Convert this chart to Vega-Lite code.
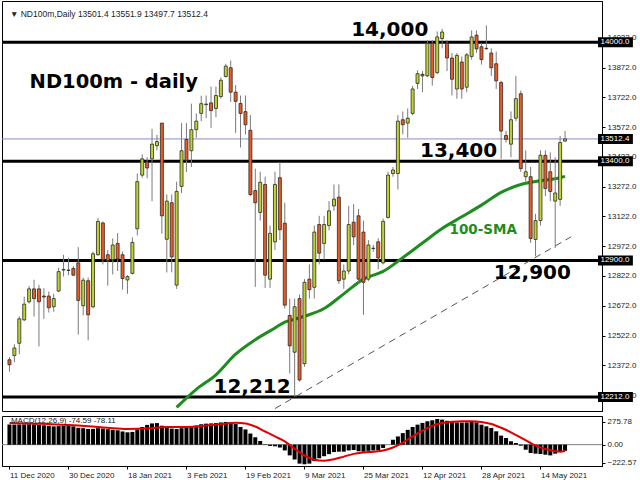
{
"$schema": "https://vega.github.io/schema/vega-lite/v6.json",
"background": "white",
"padding": {"left": 0, "top": 0, "right": 0, "bottom": 0},
"spacing": 3,
"config": {"view": {"stroke": "#000", "strokeWidth": 1}, "font": "Liberation Sans",
  "axis": {"labelFont": "Liberation Sans", "labelFontSize": 8, "labelColor": "#222", "tickColor": "#000", "domainColor": "#000", "tickSize": 3, "grid": false, "labelPadding": 2, "labelOverlap": false, "labelSeparation": 0, "labelBound": false, "labelFlush": false},
  "axisY": {"labelOverlap": false}, "axisRight": {"labelOverlap": false}, "axisQuantitative": {"labelOverlap": false}},
"datasets": {
"candles": [
{"i":0,"o":12400,"h":12413,"l":12340,"c":12375},
{"i":1,"o":12421,"h":12478,"l":12388,"c":12459},
{"i":2,"o":12483,"h":12619,"l":12428,"c":12606},
{"i":3,"o":12601,"h":12718,"l":12595,"c":12680},
{"i":4,"o":12692,"h":12772,"l":12683,"c":12757},
{"i":5,"o":12757,"h":12803,"l":12618,"c":12708},
{"i":6,"o":12757,"h":12777,"l":12467,"c":12692},
{"i":7,"o":12721,"h":12760,"l":12606,"c":12716},
{"i":8,"o":12721,"h":12744,"l":12638,"c":12662},
{"i":9,"o":12667,"h":12732,"l":12642,"c":12708},
{"i":10,"o":12746,"h":12864,"l":12741,"c":12844},
{"i":11,"o":12852,"h":12929,"l":12819,"c":12855},
{"i":12,"o":12850,"h":12914,"l":12826,"c":12852},
{"i":13,"o":12860,"h":12871,"l":12822,"c":12826},
{"i":14,"o":12888,"h":12967,"l":12527,"c":12699},
{"i":15,"o":12672,"h":12814,"l":12623,"c":12801},
{"i":16,"o":12798,"h":12814,"l":12498,"c":12626},
{"i":17,"o":12667,"h":12945,"l":12658,"c":12934},
{"i":18,"o":12929,"h":13114,"l":12924,"c":13097},
{"i":19,"o":13089,"h":13097,"l":12880,"c":12904},
{"i":20,"o":12929,"h":12953,"l":12773,"c":12899},
{"i":21,"o":12904,"h":13011,"l":12830,"c":12978},
{"i":22,"o":12986,"h":13038,"l":12847,"c":12908},
{"i":23,"o":12929,"h":12945,"l":12753,"c":12809},
{"i":24,"o":12802,"h":12826,"l":12732,"c":12819},
{"i":25,"o":12835,"h":13016,"l":12830,"c":12991},
{"i":26,"o":13060,"h":13338,"l":13027,"c":13297},
{"i":27,"o":13330,"h":13435,"l":13317,"c":13412},
{"i":28,"o":13396,"h":13420,"l":13314,"c":13366},
{"i":29,"o":13412,"h":13563,"l":13199,"c":13486},
{"i":30,"o":13478,"h":13533,"l":13455,"c":13499},
{"i":31,"o":13592,"h":13592,"l":13035,"c":13125},
{"i":32,"o":13007,"h":13233,"l":12840,"c":13199},
{"i":33,"o":13191,"h":13233,"l":12840,"c":12918},
{"i":34,"o":12776,"h":13297,"l":12757,"c":13248},
{"i":35,"o":13273,"h":13592,"l":13240,"c":13453},
{"i":36,"o":13510,"h":13592,"l":13346,"c":13404},
{"i":37,"o":13453,"h":13690,"l":13371,"c":13559},
{"i":38,"o":13559,"h":13641,"l":13518,"c":13602},
{"i":39,"o":13641,"h":13730,"l":13602,"c":13690},
{"i":40,"o":13685,"h":13731,"l":13617,"c":13688},
{"i":41,"o":13694,"h":13776,"l":13568,"c":13655},
{"i":42,"o":13666,"h":13776,"l":13622,"c":13731},
{"i":43,"o":13726,"h":13822,"l":13715,"c":13808},
{"i":44,"o":13827,"h":13891,"l":13822,"c":13879},
{"i":45,"o":13871,"h":13907,"l":13699,"c":13748},
{"i":46,"o":13748,"h":13784,"l":13543,"c":13702},
{"i":47,"o":13691,"h":13731,"l":13469,"c":13641},
{"i":48,"o":13650,"h":13731,"l":13535,"c":13584},
{"i":49,"o":13556,"h":13633,"l":13224,"c":13232},
{"i":50,"o":13252,"h":13363,"l":12767,"c":13191},
{"i":51,"o":13142,"h":13347,"l":13101,"c":13294},
{"i":52,"o":13283,"h":13322,"l":12762,"c":12826},
{"i":53,"o":12806,"h":13076,"l":12762,"c":13037},
{"i":54,"o":12994,"h":13347,"l":12953,"c":13283},
{"i":55,"o":13317,"h":13396,"l":13003,"c":13055},
{"i":56,"o":13088,"h":13191,"l":12658,"c":12675},
{"i":57,"o":12623,"h":12708,"l":12331,"c":12470},
{"i":58,"o":12438,"h":12708,"l":12212,"c":12667},
{"i":59,"o":12708,"h":12728,"l":12290,"c":12298},
{"i":60,"o":12380,"h":12806,"l":12364,"c":12790},
{"i":61,"o":12806,"h":12880,"l":12708,"c":12753},
{"i":62,"o":12765,"h":13076,"l":12708,"c":13043},
{"i":63,"o":13081,"h":13125,"l":12880,"c":12937},
{"i":64,"o":12986,"h":13125,"l":12904,"c":13081},
{"i":65,"o":13076,"h":13199,"l":13052,"c":13150},
{"i":66,"o":13175,"h":13283,"l":13150,"c":13209},
{"i":67,"o":13219,"h":13283,"l":12782,"c":12798},
{"i":68,"o":12806,"h":12880,"l":12757,"c":12847},
{"i":69,"o":12847,"h":13175,"l":12830,"c":13081},
{"i":70,"o":13093,"h":13184,"l":12978,"c":13019},
{"i":71,"o":13125,"h":13160,"l":12782,"c":12806},
{"i":72,"o":13043,"h":13101,"l":12626,"c":12790},
{"i":73,"o":12806,"h":13003,"l":12796,"c":12978},
{"i":74,"o":12960,"h":12978,"l":12944,"c":12962},
{"i":75,"o":12994,"h":13012,"l":12855,"c":12913},
{"i":76,"o":12888,"h":13111,"l":12880,"c":13097},
{"i":77,"o":13117,"h":13347,"l":13111,"c":13330},
{"i":78,"o":13338,"h":13371,"l":13322,"c":13356},
{"i":79,"o":13338,"h":13632,"l":13258,"c":13602},
{"i":80,"o":13609,"h":13651,"l":13535,"c":13584},
{"i":81,"o":13592,"h":13666,"l":13518,"c":13617},
{"i":82,"o":13641,"h":13779,"l":13632,"c":13764},
{"i":83,"o":13792,"h":13858,"l":13764,"c":13841},
{"i":84,"o":13838,"h":13854,"l":13748,"c":13830},
{"i":85,"o":13830,"h":14010,"l":13823,"c":13994},
{"i":86,"o":13994,"h":14010,"l":13781,"c":13822},
{"i":87,"o":13846,"h":14054,"l":13838,"c":14026},
{"i":88,"o":14018,"h":14067,"l":13969,"c":14051},
{"i":89,"o":13994,"h":14010,"l":13854,"c":13920},
{"i":90,"o":13920,"h":13945,"l":13731,"c":13813},
{"i":91,"o":13764,"h":13945,"l":13715,"c":13933},
{"i":92,"o":13900,"h":13928,"l":13715,"c":13764},
{"i":93,"o":13773,"h":13945,"l":13748,"c":13936},
{"i":94,"o":13928,"h":14059,"l":13912,"c":14026},
{"i":95,"o":14035,"h":14059,"l":13946,"c":13966},
{"i":96,"o":13977,"h":13995,"l":13887,"c":13912},
{"i":97,"o":13967,"h":14084,"l":13961,"c":13969},
{"i":98,"o":13945,"h":13969,"l":13830,"c":13871},
{"i":99,"o":13891,"h":13952,"l":13764,"c":13805},
{"i":100,"o":13797,"h":13805,"l":13412,"c":13552},
{"i":101,"o":13530,"h":13553,"l":13494,"c":13510},
{"i":102,"o":13486,"h":13651,"l":13420,"c":13609},
{"i":103,"o":13617,"h":13830,"l":13602,"c":13715},
{"i":104,"o":13740,"h":13756,"l":13347,"c":13363},
{"i":105,"o":13322,"h":13455,"l":13297,"c":13347},
{"i":106,"o":13322,"h":13371,"l":12989,"c":13011},
{"i":107,"o":13006,"h":13135,"l":12921,"c":13101},
{"i":108,"o":13101,"h":13455,"l":13076,"c":13430},
{"i":109,"o":13430,"h":13455,"l":13224,"c":13263},
{"i":110,"o":13347,"h":13445,"l":13199,"c":13248},
{"i":111,"o":13199,"h":13420,"l":12963,"c":13240},
{"i":112,"o":13208,"h":13527,"l":13175,"c":13494},
{"i":113,"o":13501.4,"h":13551.9,"l":13497.7,"c":13512.4}
],
"sma": [
{"i":34,"v":12160},{"i":38,"v":12251},{"i":42,"v":12324},{"i":46,"v":12428},{"i":50,"v":12501},{"i":54,"v":12560},{"i":56,"v":12590},{"i":58,"v":12604},{"i":60,"v":12619},{"i":64,"v":12658},{"i":68,"v":12732},{"i":72,"v":12806},{"i":76,"v":12845},{"i":80,"v":12914},{"i":84,"v":12988},{"i":88,"v":13061},{"i":92,"v":13120},{"i":96,"v":13179},{"i":100,"v":13243},{"i":104,"v":13283},{"i":108,"v":13302},{"i":112,"v":13317},{"i":113,"v":13324}
],
"trend": [{"i":54,"p":12154},{"i":114.2,"p":13019}],
"levels": [{"p":14000},{"p":13400},{"p":12900},{"p":12212}],
"boxes": [{"p":14000},{"p":13512.4},{"p":13400},{"p":12900},{"p":12212}],
"bignotes": [{"i":69.5,"p":14030,"t":"14,000"},{"i":83.5,"p":13420,"t":"13,400"},{"i":98.5,"p":12806,"t":"12,900"},{"i":41.5,"p":12231,"t":"12,212"}],
"macd": [
{"i":0,"m":245},{"i":1,"m":243},{"i":2,"m":245},{"i":3,"m":246},{"i":4,"m":248},{"i":5,"m":246},{"i":6,"m":240},{"i":7,"m":235},{"i":8,"m":228},{"i":9,"m":222},{"i":10,"m":225},{"i":11,"m":228},{"i":12,"m":226},{"i":13,"m":222},{"i":14,"m":205},{"i":15,"m":200},{"i":16,"m":190},{"i":17,"m":192},{"i":18,"m":200},{"i":19,"m":195},{"i":20,"m":188},{"i":21,"m":180},{"i":22,"m":175},{"i":23,"m":160},{"i":24,"m":150},{"i":25,"m":155},{"i":26,"m":185},{"i":27,"m":215},{"i":28,"m":240},{"i":29,"m":258},{"i":30,"m":262},{"i":31,"m":230},{"i":32,"m":210},{"i":33,"m":195},{"i":34,"m":190},{"i":35,"m":200},{"i":36,"m":205},{"i":37,"m":215},{"i":38,"m":232},{"i":39,"m":248},{"i":40,"m":255},{"i":41,"m":258},{"i":42,"m":262},{"i":43,"m":270},{"i":44,"m":275},{"i":45,"m":270},{"i":46,"m":250},{"i":47,"m":215},{"i":48,"m":185},{"i":49,"m":135},{"i":50,"m":90},{"i":51,"m":45},{"i":52,"m":5},{"i":53,"m":-15},{"i":54,"m":-20},{"i":55,"m":-35},{"i":56,"m":-70},{"i":57,"m":-130},{"i":58,"m":-180},{"i":59,"m":-230},{"i":60,"m":-238},{"i":61,"m":-230},{"i":62,"m":-200},{"i":63,"m":-165},{"i":64,"m":-140},{"i":65,"m":-115},{"i":66,"m":-90},{"i":67,"m":-85},{"i":68,"m":-85},{"i":69,"m":-70},{"i":70,"m":-65},{"i":71,"m":-80},{"i":72,"m":-85},{"i":73,"m":-75},{"i":74,"m":-70},{"i":75,"m":-70},{"i":76,"m":-40},{"i":77,"m":0},{"i":78,"m":60},{"i":79,"m":100},{"i":80,"m":140},{"i":81,"m":180},{"i":82,"m":215},{"i":83,"m":243},{"i":84,"m":264},{"i":85,"m":284},{"i":86,"m":296},{"i":87,"m":312},{"i":88,"m":304},{"i":89,"m":290},{"i":90,"m":275},{"i":91,"m":270},{"i":92,"m":268},{"i":93,"m":270},{"i":94,"m":275},{"i":95,"m":270},{"i":96,"m":243},{"i":97,"m":223},{"i":98,"m":203},{"i":99,"m":162},{"i":100,"m":110},{"i":101,"m":81},{"i":102,"m":41},{"i":103,"m":20},{"i":104,"m":-12},{"i":105,"m":-61},{"i":106,"m":-101},{"i":107,"m":-109},{"i":108,"m":-113},{"i":109,"m":-122},{"i":110,"m":-130},{"i":111,"m":-109},{"i":112,"m":-81},{"i":113,"m":-75}
],
"sig": [
{"i":0,"s":262},{"i":4,"s":258},{"i":8,"s":250},{"i":12,"s":240},{"i":16,"s":225},{"i":20,"s":205},{"i":24,"s":190},{"i":28,"s":195},{"i":32,"s":215},{"i":36,"s":215},{"i":40,"s":232},{"i":44,"s":255},{"i":46,"s":265},{"i":48,"s":258},{"i":50,"s":220},{"i":52,"s":160},{"i":54,"s":100},{"i":56,"s":40},{"i":58,"s":-50},{"i":60,"s":-130},{"i":62,"s":-182},{"i":64,"s":-194},{"i":66,"s":-178},{"i":68,"s":-145},{"i":70,"s":-112},{"i":72,"s":-95},{"i":74,"s":-85},{"i":76,"s":-72},{"i":78,"s":-35},{"i":80,"s":25},{"i":82,"s":100},{"i":84,"s":170},{"i":86,"s":228},{"i":88,"s":262},{"i":90,"s":278},{"i":92,"s":285},{"i":94,"s":285},{"i":96,"s":275},{"i":98,"s":250},{"i":100,"s":205},{"i":102,"s":150},{"i":104,"s":85},{"i":106,"s":20},{"i":108,"s":-35},{"i":110,"s":-68},{"i":112,"s":-85},{"i":113,"s":-78}
]
},
"vconcat": [
{
"width": 600, "height": 410,
"encoding": {"y": {"type": "quantitative", "title": null, "scale": {"domain": [12167, 14182], "nice": false, "zero": false},
   "axis": {"orient": "right", "values": [14022,13872,13722,13572,13422,13272,13122,12972,12822,12672,12522,12372,12222], "format": ".1f", "labelOverlap": false}}},
"layer": [
{"data": {"name": "levels"}, "mark": {"type": "rule", "color": "#000", "strokeWidth": 3},
 "encoding": {"y": {"field": "p", "type": "quantitative"}}},
{"data": {"values": [{"p": 13512.4}]}, "mark": {"type": "rule", "color": "#8c8cc8", "strokeWidth": 1},
 "encoding": {"y": {"field": "p", "type": "quantitative"}}},
{"data": {"name": "trend"}, "mark": {"type": "line", "color": "#555", "strokeWidth": 1, "strokeDash": [7, 5], "clip": true},
 "encoding": {"x": {"field": "i", "type": "quantitative", "scale": {"domain": [-0.5, 119.5], "nice": false, "zero": false}, "axis": null},
   "y": {"field": "p", "type": "quantitative"}}},
{"data": {"name": "sma"}, "mark": {"type": "line", "color": "#1e8c1e", "strokeWidth": 3, "interpolate": "monotone", "clip": true},
 "encoding": {"x": {"field": "i", "type": "quantitative", "axis": null}, "y": {"field": "v", "type": "quantitative"}}},
{"data": {"name": "candles"}, "mark": {"type": "rule", "color": "#7a7a7a", "strokeWidth": 1},
 "encoding": {"x": {"field": "i", "type": "quantitative", "axis": null}, "y": {"field": "l", "type": "quantitative"}, "y2": {"field": "h"}}},
{"data": {"name": "candles"}, "mark": {"type": "bar", "size": 3, "stroke": "#2a2a2a", "strokeWidth": 0.8},
 "encoding": {"x": {"field": "i", "type": "quantitative", "axis": null}, "y": {"field": "o", "type": "quantitative"}, "y2": {"field": "c"},
   "color": {"condition": {"test": "datum.c >= datum.o", "value": "#c0d42c"}, "value": "#ef5a1f"}}},
{"data": {"name": "bignotes"}, "mark": {"type": "text", "font": "DejaVu Sans", "fontWeight": "bold", "fontSize": 20, "align": "left", "baseline": "alphabetic", "color": "#000"},
 "encoding": {"x": {"field": "i", "type": "quantitative", "axis": null}, "y": {"field": "p", "type": "quantitative"}, "text": {"field": "t"}}},
{"data": {"values": [{"i": 4.1, "p": 13769, "t": "ND100m - daily"}]}, "mark": {"type": "text", "font": "DejaVu Sans", "fontWeight": "bold", "fontSize": 19.5, "align": "left", "baseline": "alphabetic", "color": "#000"},
 "encoding": {"x": {"field": "i", "type": "quantitative", "axis": null}, "y": {"field": "p", "type": "quantitative"}, "text": {"field": "t"}}},
{"data": {"values": [{"i": 89.5, "p": 13032, "t": "100-SMA"}]}, "mark": {"type": "text", "font": "DejaVu Sans", "fontWeight": "bold", "fontSize": 13.5, "align": "left", "baseline": "alphabetic", "color": "#1e8c1e"},
 "encoding": {"x": {"field": "i", "type": "quantitative", "axis": null}, "y": {"field": "p", "type": "quantitative"}, "text": {"field": "t"}}},
{"data": {"values": [{"i": 0.1, "p": 14143, "t": "▼ ND100m,Daily  13501.4 13551.9 13497.7 13512.4"}]}, "mark": {"type": "text", "font": "Liberation Sans", "fontSize": 8.5, "align": "left", "baseline": "middle", "color": "#222"},
 "encoding": {"x": {"field": "i", "type": "quantitative", "axis": null}, "y": {"field": "p", "type": "quantitative"}, "text": {"field": "t"}}},
{"data": {"name": "boxes"}, "mark": {"type": "bar", "color": "#000", "size": 10, "orient": "horizontal"},
 "encoding": {"x": {"datum": 119.7, "type": "quantitative", "axis": null}, "x2": {"datum": 126.8}, "y": {"field": "p", "type": "quantitative"}}},
{"data": {"name": "boxes"}, "mark": {"type": "text", "color": "#fff", "font": "Liberation Sans", "fontSize": 8, "align": "left", "baseline": "middle"},
 "encoding": {"x": {"datum": 120.2, "type": "quantitative", "axis": null}, "y": {"field": "p", "type": "quantitative"}, "text": {"field": "p", "type": "quantitative", "format": ".1f"}}}
]
},
{
"width": 600, "height": 50,
"encoding": {"y": {"type": "quantitative", "title": null, "scale": {"domain": [-259, 348], "nice": false, "zero": false},
   "axis": {"orient": "right", "values": [275.78, 0, -222.57], "format": ".2f", "labelOverlap": false}},
  "x": {"type": "quantitative", "title": null, "scale": {"domain": [-0.5, 119.5], "nice": false, "zero": false},
   "axis": {"orient": "bottom", "values": [0,12,24,36,48,60,72,84,96,108], "labelAlign": "left", "labelOverlap": false, "labelFlush": false,
     "labelExpr": "['11 Dec 2020','30 Dec 2020','18 Jan 2021','3 Feb 2021','19 Feb 2021','9 Mar 2021','25 Mar 2021','12 Apr 2021','28 Apr 2021','14 May 2021'][round(datum.value/12)]"}}},
"layer": [
{"data": {"values": [{"z": 0}]}, "mark": {"type": "rule", "color": "#808080", "strokeWidth": 1},
 "encoding": {"x": null, "y": {"field": "z", "type": "quantitative"}}},
{"data": {"name": "macd"}, "mark": {"type": "bar", "size": 4, "color": "#000"},
 "encoding": {"x": {"field": "i", "type": "quantitative"}, "y": {"field": "m", "type": "quantitative"}, "y2": {"datum": 0}}},
{"data": {"name": "sig"}, "mark": {"type": "line", "color": "#e00000", "strokeWidth": 2, "interpolate": "monotone"},
 "encoding": {"x": {"field": "i", "type": "quantitative"}, "y": {"field": "s", "type": "quantitative"}}},
{"data": {"values": [{"i": 0.3, "v": 290, "t": "MACD(12,26,9) -74.59 -78.11"}]}, "mark": {"type": "text", "font": "Liberation Sans", "fontSize": 8, "align": "left", "baseline": "middle", "color": "#222"},
 "encoding": {"x": {"field": "i", "type": "quantitative"}, "y": {"field": "v", "type": "quantitative"}, "text": {"field": "t"}}}
]
}
]
}
